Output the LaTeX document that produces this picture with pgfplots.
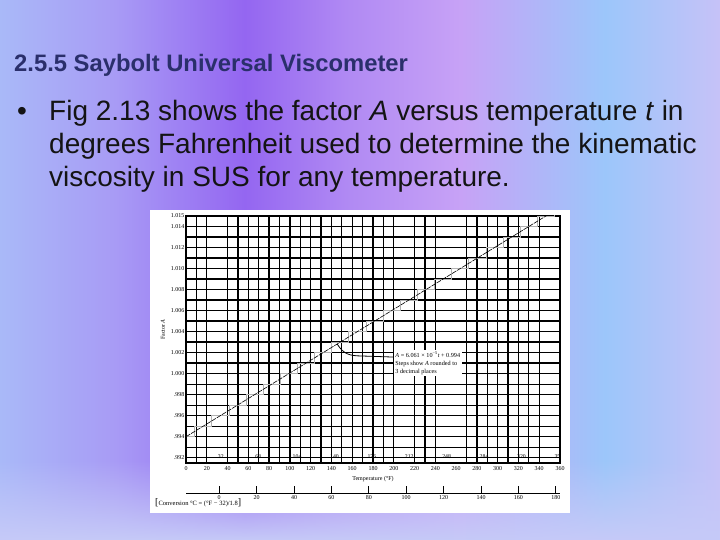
\documentclass[border=0pt]{standalone}
\usepackage{pgfplots}
\pgfplotsset{compat=1.18}
\usepackage{fontspec}
\setmainfont{Liberation Serif}
\newfontfamily\arial{Liberation Sans}
\usetikzlibrary{fadings}
\definecolor{bgA}{HTML}{A9B9F8}
\definecolor{bgB}{HTML}{A89BF5}
\definecolor{bgC}{HTML}{9466F1}
\definecolor{bgD}{HTML}{B089F3}
\definecolor{bgE}{HTML}{C7A2F6}
\definecolor{bgF}{HTML}{9CC6FA}
\definecolor{bgG}{HTML}{C6C2F8}
\definecolor{bgBot}{HTML}{C6CAF8}
\definecolor{titlecol}{HTML}{2A2F6B}
\definecolor{txtcol}{HTML}{141414}
\pgfdeclarehorizontalshading{slidebg}{100bp}{color(0bp)=(bgA); color(25bp)=(bgA); color(33bp)=(bgB); color(42bp)=(bgC); color(49bp)=(bgD); color(57bp)=(bgE); color(67bp)=(bgF); color(75bp)=(bgG); color(100bp)=(bgG)}
\begin{document}
\begin{tikzpicture}
\useasboundingbox (0,0) rectangle (720pt,540pt);
\shade[shading=slidebg] (0,0) rectangle (720pt,540pt);
\fill[bgBot, path fading=north] (0,0) rectangle (720pt,80pt);
\fill[white] (150pt,27pt) rectangle (570pt,330pt);
\node[anchor=base west, font=\arial\bfseries\fontsize{23.8}{26}\selectfont, text=titlecol, inner sep=0] at (14pt,468pt) {2.5.5 Saybolt Universal Viscometer};
\begin{scope}[every node/.style={anchor=base west, inner sep=0, text=txtcol, font=\arial\fontsize{28}{32}\selectfont}]
\node at (17pt,419pt) {•};
\node at (49pt,419pt) {Fig 2.13 shows the factor \textit{A} versus temperature \textit{t} in};
\node at (49pt,386pt) {degrees Fahrenheit used to determine the kinematic};
\node at (49pt,353pt) {viscosity in SUS for any temperature.};
\end{scope}
\node[anchor=west, inner sep=0, font=\fontsize{6.5}{7}\selectfont] at (155pt,37pt) {{\fontsize{10}{10}\selectfont[}Conversion °C = (°F − 32)/1.8{\fontsize{10}{10}\selectfont]}};

\begin{axis}[
  at={(186pt,77pt)}, anchor=south west,
  width=374pt, height=247pt, scale only axis,
  xmin=0, xmax=360, ymin=0.9915, ymax=1.015,
  xtick={0,20,40,60,80,100,120,140,160,180,200,220,240,260,280,300,320,340,360},
  xticklabels={0,20,40,60,80,100,120,140,160,180,200,220,240,260,280,300,320,340,360},
  ytick={0.992,0.994,0.996,0.998,1.000,1.002,1.004,1.006,1.008,1.010,1.012,1.014,1.015},
  yticklabels={.992,.994,.996,.998,1.000,1.002,1.004,1.006,1.008,1.010,1.012,1.014,1.015},
  minor xtick={0,10,20,40,50,60,70,80,90,100,110,120,130,140,150,160,170,180,190,200,220,230,240,270,280,290,300,310,320,330,340,360},
  minor ytick={0.992,0.993,0.994,0.995,0.996,0.997,0.998,0.999,1.000,1.001,1.002,1.003,1.004,1.005,1.006,1.007,1.008,1.009,1.010,1.011,1.012,1.013,1.014},
  grid=minor,
  minor grid style={black, line width=1.3pt},
  major tick length=0pt, minor tick length=0pt,
  axis line style={black, line width=1.3pt},
  tick label style={font=\fontsize{6}{6.5}\selectfont, inner sep=0.5pt},
  xticklabel style={yshift=-3pt},
  yticklabel style={xshift=-1pt},
  xlabel={Temperature (°F)},
  xlabel style={at={(axis description cs:0.5,-0.065)}, anchor=center, font=\fontsize{6}{6.5}\selectfont},
  ylabel={Factor \textit{A}},
  ylabel style={at={(axis description cs:-0.062,0.54)}, anchor=center, font=\fontsize{6}{6.5}\selectfont},
  clip=true,
]
\addplot[const plot, draw=black!30, line width=0.7pt] coordinates {
(0,0.994) (8.25,0.995) (24.75,0.996) (41.25,0.997) (57.75,0.998) (74.24,0.999)
(90.74,1.000) (107.24,1.001) (123.74,1.002) (140.24,1.003) (156.74,1.004)
(173.24,1.005) (189.74,1.006) (206.24,1.007) (222.74,1.008) (239.23,1.009)
(255.73,1.010) (272.23,1.011) (288.73,1.012) (305.23,1.013) (321.73,1.014)
(338.23,1.015) (354.73,1.016) (360,1.016)};
\addplot[black, line width=0.6pt, dash pattern=on 5pt off 1pt] coordinates {(0,0.994) (360,1.01582)};
\foreach \t/\l in {32/32,68/68,104/104,140/140,176/176,212/212,248/248,284/284,320/320,356/356}{
  \edef\temp{\noexpand\draw[black, line width=0.7pt] (axis cs:\t,0.9915) -- ++(0,5pt);
  \noexpand\node[anchor=south west, inner sep=0.5pt, font=\noexpand\fontsize{5.8}{6}\noexpand\selectfont] at (axis cs:\t,0.9915) [yshift=4pt,xshift=-2pt] {\l};}
  \temp
}
\draw[black, line width=0.8pt] (axis cs:145.5,1.00282) .. controls (axis cs:152,1.0018) and (axis cs:158,1.0017) .. (axis cs:169.4,1.00168) -- (axis cs:199.5,1.00158);
\node[fill=white, anchor=north west, inner sep=1.5pt, align=left, font=\fontsize{6.2}{8}\selectfont] at (axis cs:200,1.00225)
  {\textit{A} = 6.061 × 10\textsuperscript{−5}\textit{t} + 0.994\\Steps show \textit{A} rounded to\\3 decimal places};
\end{axis}

\begin{axis}[
  at={(186pt,47pt)}, anchor=south west,
  width=374pt, height=5pt, scale only axis,
  xmin=-17.778, xmax=182.222, ymin=0, ymax=1,
  hide y axis, axis x line*=bottom,
  xtick={0,20,40,60,80,100,120,140,160,180},
  xticklabels={0,20,40,60,80,100,120,140,160,180},
  tick align=inside, major tick length=7pt,
  every tick/.style={black, line width=0.8pt},
  axis line style={black, line width=0.9pt},
  tick label style={font=\fontsize{6}{6.5}\selectfont, inner sep=1pt},
  xticklabel style={yshift=-1pt},
]
\end{axis}
\end{tikzpicture}
\end{document}
